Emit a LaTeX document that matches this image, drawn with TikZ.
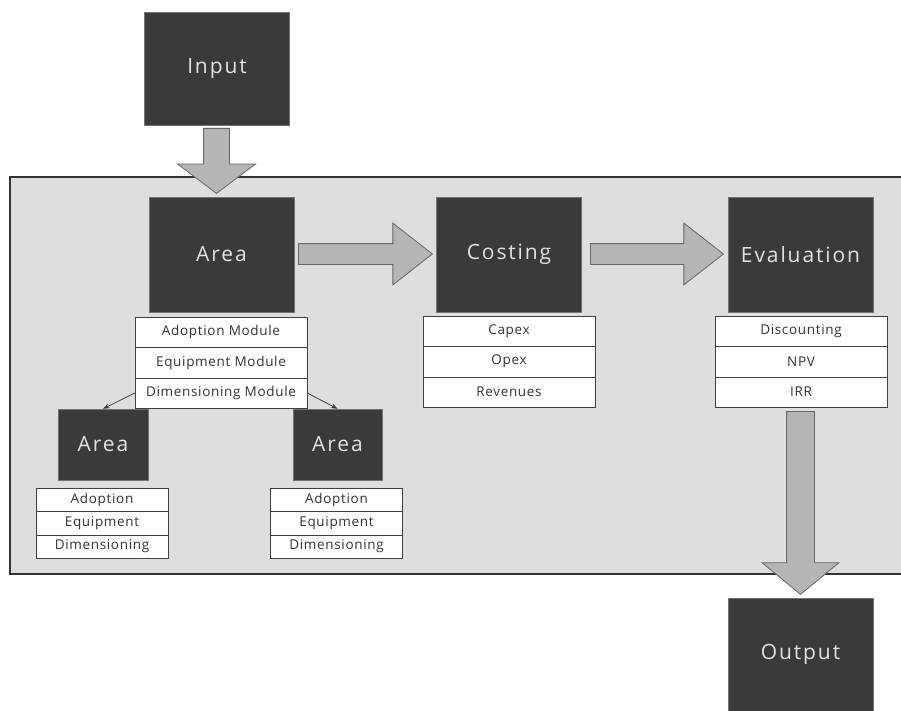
\documentclass[tikz,border=0pt]{standalone}
\usepackage{fontspec}
\setmainfont{Open Sans}
\newfontfamily\boxfont[LetterSpace=9]{Open Sans}
\newfontfamily\cellfont[LetterSpace=5]{Open Sans}
\usetikzlibrary{arrows.meta}
\usetikzlibrary{shapes.arrows}
\definecolor{boxgray}{HTML}{3A3A3A}
\definecolor{labelgray}{HTML}{E2E2E2}
\definecolor{panelgray}{HTML}{DEDEDE}
\definecolor{arrowgray}{HTML}{B5B5B5}
\tikzset{
	darkbox/.style={draw=black!55, fill=boxgray, text=labelgray, inner sep=0pt,
		minimum width=145pt, minimum height=115pt,
		font=\boxfont\fontsize{21}{24}\selectfont},
	smallbox/.style={darkbox, minimum width=90pt, minimum height=71pt},
	cell/.style={draw=black!75, fill=white, inner sep=0pt, text=black!80,
		minimum width=172pt, minimum height=30.5pt,
		font=\cellfont\fontsize{13.5}{15}\selectfont},
	smallcell/.style={cell, minimum width=132pt, minimum height=23.3pt},
	blockarrow/.style={single arrow, draw=black!60, fill=arrowgray, line width=0.8pt,
		inner xsep=0pt, single arrow head indent=0pt, anchor=tail}
}

\begin{document}
\begin{tikzpicture}[x=1pt,y=-1pt,>=Stealth]
	\useasboundingbox (0,0) rectangle (901,711);
	\fill[white] (0,0) rectangle (901,711);
	\draw[fill=panelgray, draw=black!80, line width=1.5pt] (10,177) rectangle (912,574);

	\node[darkbox, minimum height=113pt] (input) at (217,68.5) {Input};
	\node[darkbox] (area) at (221.5,254.5) {Area};
	\node[darkbox] (costing) at (509,254.5) {Costing};
	\node[darkbox] (evaluation) at (800.5,254.5) {Evaluation};
	\node[darkbox, minimum height=113pt] (output) at (800.5,654.5) {Output};

	\node[cell] (adoptmod) at (221,332) {Adoption Module};
	\node[cell] (equipmod) at (221,362.5) {Equipment Module};
	\node[cell] (dimmod) at (221,393) {Dimensioning Module};

	\node[cell] (capex) at (509,331) {Capex};
	\node[cell] (opex) at (509,361.5) {Opex};
	\node[cell] (revenues) at (509,392) {Revenues};

	\node[cell] (discounting) at (801,331) {Discounting};
	\node[cell] (npv) at (801,361.5) {NPV};
	\node[cell] (irr) at (801,392) {IRR};

	\node[smallbox] (areaL) at (103,444.5) {Area};
	\node[smallcell] (adoptL) at (102,500) {Adoption};
	\node[smallcell] (equipL) at (102,523.3) {Equipment};
	\node[smallcell] (dimL) at (102,546.6) {Dimensioning};

	\node[smallbox, minimum width=89pt] (areaR) at (337.5,444.5) {Area};
	\node[smallcell] (adoptR) at (336.5,500) {Adoption};
	\node[smallcell] (equipR) at (336.5,523.3) {Equipment};
	\node[smallcell] (dimR) at (336.5,546.6) {Dimensioning};

	\draw[->, black!75, line width=0.8pt] (dimmod.west) -- (areaL.north);
	\draw[->, black!75, line width=0.8pt] (dimmod.east) -- (areaR.north);

	\node[blockarrow, rotate=-90, minimum height=65pt, inner ysep=12.5pt,
		single arrow head extend=26pt, single arrow tip angle=106] (inarrow) at (216.5,128) {};
	\node[blockarrow, minimum height=134pt, inner ysep=10pt,
		single arrow head extend=20.5pt, single arrow tip angle=76] (arrowAC) at (298,254) {};
	\node[blockarrow, minimum height=133pt, inner ysep=10pt,
		single arrow head extend=20.5pt, single arrow tip angle=76] (arrowCE) at (590,254) {};
	\node[blockarrow, rotate=-90, minimum height=183pt, inner ysep=13.5pt,
		single arrow head extend=24.5pt, single arrow tip angle=101] (outarrow) at (800.5,411) {};
\end{tikzpicture}
\end{document}
